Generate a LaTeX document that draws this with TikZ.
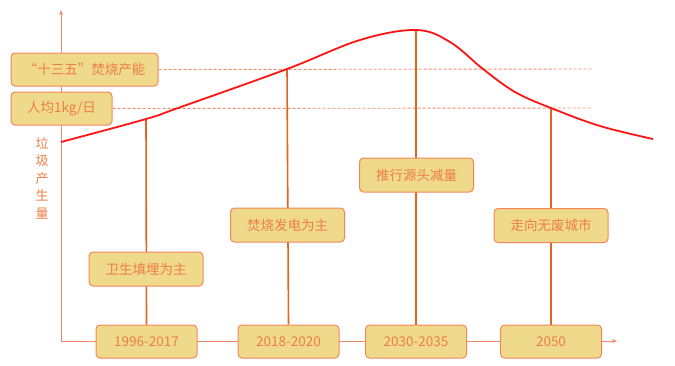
\documentclass[tikz,border=0pt]{standalone}
\usepackage{fontspec}
\newfontfamily\cjk{Noto Sans CJK SC}
\usetikzlibrary{backgrounds,arrows.meta}
\definecolor{boxfill}{HTML}{EFD98B}
\definecolor{boxline}{HTML}{F3875A}
\definecolor{txtc}{HTML}{EE7D48}
\definecolor{vline}{HTML}{E0651F}
\definecolor{axisc}{HTML}{F08A6A}
\definecolor{curvec}{HTML}{FF1414}
\tikzset{
  box/.style={draw=boxline, fill=boxfill, rounded corners=4pt, line width=1pt,
    text=txtc, font=\cjk\fontsize{13.5}{14}\selectfont, inner sep=0pt},
  yearbox/.style={box, minimum width=101pt, minimum height=33pt},
  midbox/.style={box, minimum width=114pt, minimum height=34pt},
  axisline/.style={draw=axisc, line width=0.9pt},
  stem/.style={draw=vline, line width=1.6pt},
  guide/.style={draw=axisc, line width=0.9pt, dash pattern=on 3pt off 2pt},
  curve/.style={draw=curvec, line width=1.8pt}
}
\begin{document}
\begin{tikzpicture}[x=1pt,y=-1pt]
\useasboundingbox (0,0) rectangle (675,365);
% axes
\coordinate (o) at (61,341);
\coordinate (ytop) at (61,10);
\coordinate (xend) at (617,341);
% curve points
\coordinate (c0) at (61,142);
\coordinate (c1) at (146,119);
\coordinate (c2) at (287,69);
\coordinate (c3) at (416,30);
\coordinate (c4) at (551,108);
\coordinate (ce) at (653,139);
\coordinate (d1) at (593,69);
\coordinate (d2) at (592,108);
% boxes
\node[box, minimum width=147pt, minimum height=33pt] (t135) at (84.5,69.5) {“十三五”焚烧产能};
\node[box, minimum width=101pt, minimum height=33pt] (pc) at (61.5,108.5) {人均1kg/日};
\node[yearbox] (y1) at (146.5,341.5) {1996-2017};
\node[yearbox] (y2) at (288.5,341.5) {2018-2020};
\node[yearbox] (y3) at (416,341.5) {2030-2035};
\node[yearbox] (y4) at (551,341.5) {2050};
\node[midbox] (m1) at (146,269) {卫生填埋为主};
\node[midbox] (m2) at (287.5,225) {焚烧发电为主};
\node[midbox] (m3) at (416.5,175) {推行源头减量};
\node[midbox] (m4) at (551,225.5) {走向无废城市};
\node[text=txtc, font=\cjk\fontsize{13}{17.5}\selectfont, align=center, inner sep=0pt] (ylab) at (42,178) {垃\\圾\\产\\生\\量};
\begin{pgfonlayer}{background}
\draw[axisline, -{Stealth[length=5pt,width=4pt]}] (o) -- (ytop);
\draw[axisline, -{Stealth[length=5pt,width=4pt]}] (o) -- (xend);
\draw[guide] (t135.east) -- (d1);
\draw[guide] (pc.east) -- (d2);
\draw[stem] (c1) -- (y1.north);
\draw[stem] (c2) -- (y2.north);
\draw[stem] (c3) -- (y3.north);
\draw[stem] (c4) -- (y4.north);
\end{pgfonlayer}
\draw[curve] plot[smooth, tension=0.6] coordinates {(61,142) (146,119) (178,108) (287,69) (360,40) (416,30) (450,42) (483,69) (515,92) (551,108) (600,126) (653,139)};
\end{tikzpicture}
\end{document}
